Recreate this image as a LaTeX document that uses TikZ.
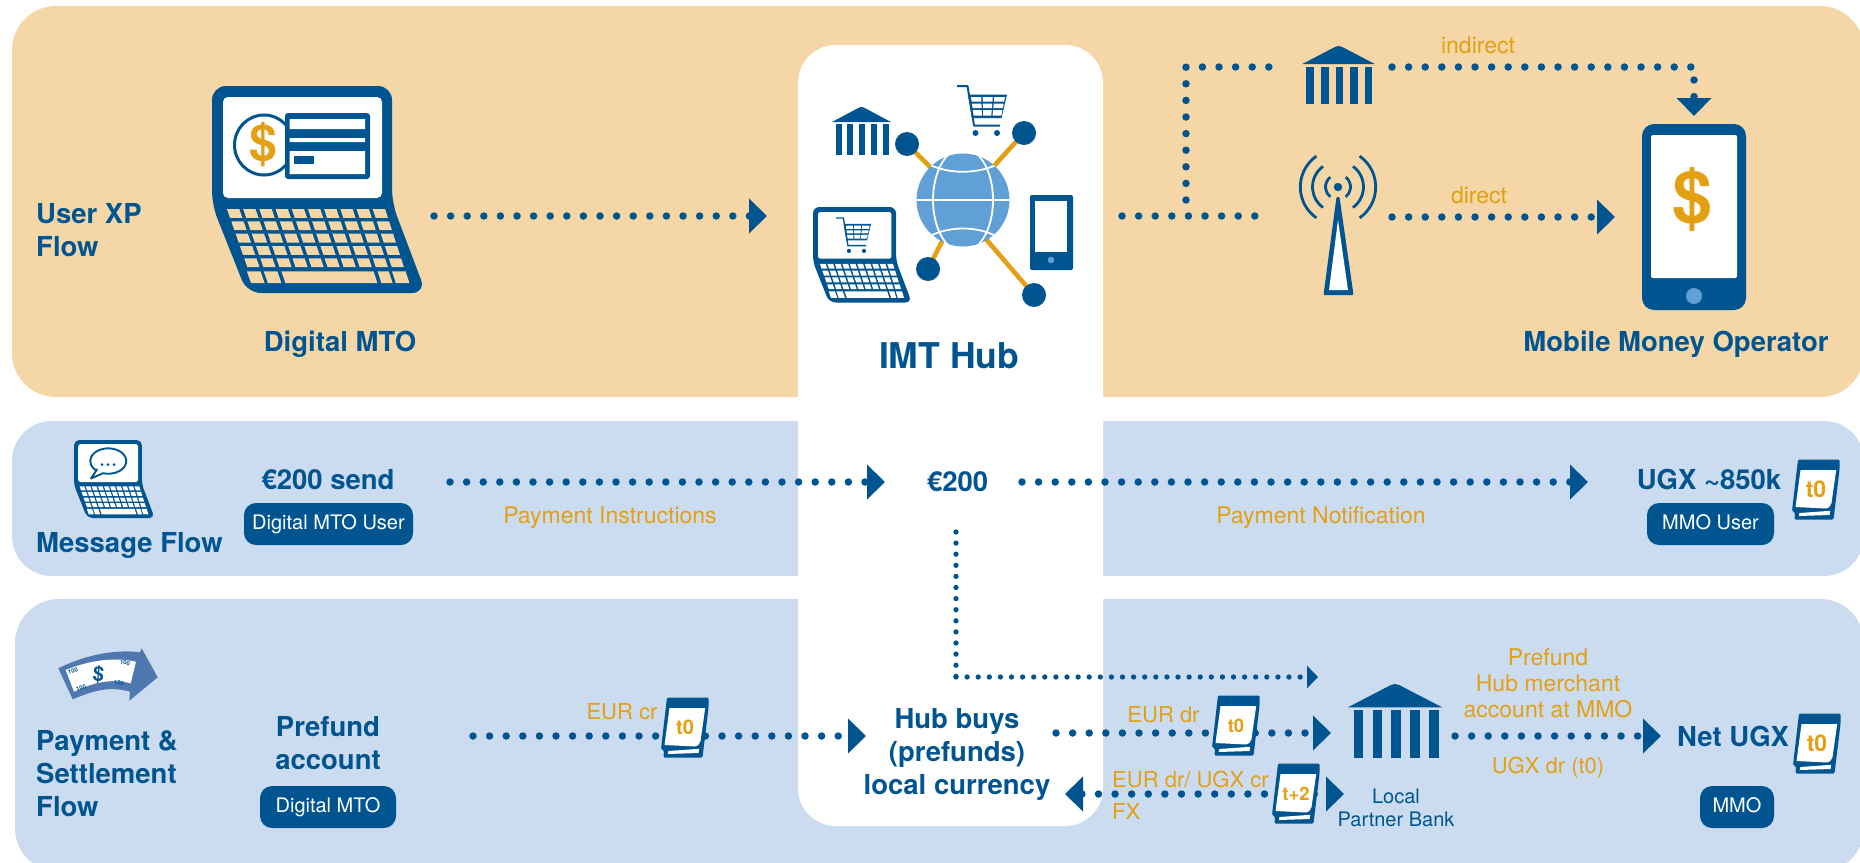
\documentclass[tikz,border=0pt]{standalone}
\usepackage{fontspec}
\setmainfont{TeX Gyre Heros}
\usetikzlibrary{arrows.meta}
\definecolor{mblue}{HTML}{005591}
\definecolor{amber}{HTML}{E3A015}
\definecolor{panelo}{HTML}{F5D6A7}
\definecolor{panelb}{HTML}{CBDCF1}
\definecolor{globeb}{HTML}{619FD7}
\definecolor{notearrow}{HTML}{5078B0}
\tikzset{
  declare function={kx(\u,\t)=13+26*\t+\u*(162-2*\t);ky(\t)=123+74*\t;},
  head/.style={font=\fontsize{27.5}{33}\selectfont\bfseries,text=mblue,inner sep=0pt,anchor=base,yshift=-1.2pt},
  headl/.style={head,align=left,anchor=base west},
  headc/.style={head,align=center},
  lab/.style={font=\fontsize{23}{26}\selectfont,text=amber,inner sep=0pt,anchor=base,yshift=-1.2pt},
  labs/.style={lab,font=\fontsize{22}{26}\selectfont},
  plab/.style={font=\fontsize{20}{23}\selectfont,text=mblue,inner sep=0pt,anchor=base,align=center,yshift=-1.2pt},
  pill/.style={fill=mblue,rounded corners=12pt,text=white,font=\fontsize{20}{23}\selectfont,
     minimum height=42pt,inner xsep=0pt,inner ysep=0pt,text height=15pt,text depth=5pt},
  dotline/.style={draw=mblue,line width=7.5pt,line cap=round,dash pattern=on 0pt off 16.6pt},
  thindot/.style={draw=mblue,line width=5.3pt,line cap=round,dash pattern=on 0pt off 11.1pt},
  bigtip/.style={-{Triangle[length=18pt,width=34pt,fill=mblue]}},
  bothtip/.style={{Triangle[length=18pt,width=34pt,fill=mblue]}-{Triangle[length=18pt,width=34pt,fill=mblue]}},
  smalltip/.style={-{Triangle[length=11pt,width=22pt,fill=mblue]}},
  hubdot/.style={circle,fill=mblue,minimum size=24pt,inner sep=0pt},
  spoke/.style={draw=amber,line width=4.6pt},
  tlab/.style={text=amber,inner sep=0pt},
  notenum/.style={inner sep=0pt,text=mblue,font=\fontsize{6}{6}\selectfont\bfseries},
}
% laptop: x y scale keycolour rows
\newcommand\laptopicon[5]{%
 \begin{scope}[shift={(#1,#2)},scale=#3]
  \pgfmathsetmacro\lapr{#3*14}\pgfmathsetmacro\lapq{#3*5}
  \fill[mblue,rounded corners=\lapr pt] (0,119) -- (35,207) -- (214,207) -- (180,117) -- (180,0) -- (0,0) -- cycle;
  \fill[white,rounded corners=\lapq pt] (11,11) rectangle (170,112);
  \pgfmathsetmacro\nr{#5}
  \pgfmathtruncatemacro\nrm{#5-2}
  \foreach \r in {0,...,\nrm}{
   \foreach \c in {0,...,9}{
    \pgfmathsetmacro\ta{\r/\nr}\pgfmathsetmacro\tb{(\r+0.72)/\nr}
    \pgfmathsetmacro\ua{\c/10+.012}\pgfmathsetmacro\ub{(\c+1)/10-.012}
    \fill[#4] ({kx(\ua,\ta)},{ky(\ta)}) -- ({kx(\ub,\ta)},{ky(\ta)}) -- ({kx(\ub,\tb)},{ky(\tb)}) -- ({kx(\ua,\tb)},{ky(\tb)}) -- cycle;
   }}
  \pgfmathsetmacro\ta{(\nr-1)/\nr+.01}\pgfmathsetmacro\tb{1}
  \foreach \ua/\ub in {0/.085,.105/.19,.215/.79,.815/.885,.905/.99}{
    \fill[#4] ({kx(\ua,\ta)},{ky(\ta)}) -- ({kx(\ub,\ta)},{ky(\ta)}) -- ({kx(\ub,\tb)},{ky(\tb)}) -- ({kx(\ua,\tb)},{ky(\tb)}) -- cycle;
  }
 \end{scope}}
% bank: x y xscale yscale
\newcommand\bankicon[4]{%
 \begin{scope}[shift={(#1,#2)},xscale=#3,yscale=#4]
  \fill[mblue,line join=round] (0,15) -- (27,.6) -- (29.5,0) -- (32,.6) -- (59,15) -- cycle;
  \foreach \i in {0,...,4}{\fill[mblue] ({3.6+11.8*\i},17) rectangle ({9.6+11.8*\i},48);}
 \end{scope}}
% cart: x y scale
\newcommand\carticon[3]{%
 \begin{scope}[shift={(#1,#2)},scale=#3]
  \fill[mblue] (11,8.5) -- (50,8.5) -- (44.5,32) -- (15,32) -- cycle;
  \draw[mblue,line width=#3*2pt,line join=round] (0,0) -- (10.5,0) -- (17,39.5) -- (43,39.5);
  \foreach \yb/\yc/\s in {11/15.5/0,17.5/22/1,24/29.5/2}{
   \foreach \ua/\ub in {0/.3,.345/.64,.685/1}{
    \pgfmathsetmacro\la{14+.14*(\yb-11)}\pgfmathsetmacro\ra{48-.2*(\yb-11)}
    \pgfmathsetmacro\lb{14+.14*(\yc-11)}\pgfmathsetmacro\rb{48-.2*(\yc-11)}
    \fill[white] ({\la+\ua*(\ra-\la)},\yb) -- ({\la+\ub*(\ra-\la)},\yb) -- ({\lb+\ub*(\rb-\lb)},\yc) -- ({\lb+\ua*(\rb-\lb)},\yc) -- cycle;
   }}
  \fill[mblue] (18.5,47) circle (3) (40,47) circle (3);
 \end{scope}}
% calendar: x y name fontsize text
\newcommand\calicon[5]{%
 \begin{scope}[shift={(#1,#2)}]
  \fill[mblue,rounded corners=1.2pt] (6,0.5) -- (47.5,0.5) -- (47.5,11) -- (41.5,60.5) -- (2.5,60.5) -- (3,53.5) -- (0,52) -- cycle;
  \fill[white] (8.5,11) -- (44.2,11) -- (39.5,44) .. controls (38.5,47) and (37.5,48.5) .. (34,49.5) -- (3.5,48) -- cycle;
  \fill[white] (7.5,54) -- (38.2,51.8) -- (37.5,56) -- (6.5,57) -- cycle;
  \node[tlab,font=\fontsize{#4}{#4}\selectfont\bfseries] (#3) at (24,30.5) {#5};
 \end{scope}}
\begin{document}
\begin{tikzpicture}[x=1pt,y=-1pt]
\useasboundingbox (0,0) rectangle (1860,862);
\clip (0,0) rectangle (1860,862);
\fill[white] (0,0) rectangle (1860,862);
% panels
\fill[panelo,rounded corners=44pt] (12,6) rectangle (1864,397);
\fill[panelb,rounded corners=40pt] (12,421) rectangle (1864,576);
\fill[panelb,rounded corners=44pt] (15,599) rectangle (1864,872);
\fill[white,rounded corners=38pt] (798,45) rectangle (1103,826);
% connector ends
\coordinate (xpA) at (434,216); \coordinate (xpB) at (767,216);
\coordinate (rtA) at (1122,216); \coordinate (rtB) at (1271,216);
\coordinate (upA) at (1186,200); \coordinate (upB) at (1186,67); \coordinate (upC) at (1270,67);
\coordinate (inA) at (1392,67); \coordinate (inB) at (1691,67);
\coordinate (inC) at (1694,80); \coordinate (inD) at (1694,116);
\coordinate (diA) at (1392,217); \coordinate (diB) at (1615,217);
\coordinate (m1A) at (450,482); \coordinate (m1B) at (885,482);
\coordinate (m2A) at (1022,482); \coordinate (m2B) at (1588,482);
\coordinate (p1A) at (473,736); \coordinate (p1B) at (866,736);
\coordinate (p2A) at (1056,733); \coordinate (p2B) at (1331,733);
\coordinate (p3A) at (1065,794); \coordinate (p3B) at (1344,794);
\coordinate (p4A) at (1455,736); \coordinate (p4B) at (1661,736);
\coordinate (vtA) at (956,532); \coordinate (vtB) at (956,677); \coordinate (vtC) at (1318,677);
\draw[dotline,bigtip] (xpA) -- (xpB);
\draw[dotline] (rtA) -- (rtB);
\draw[dotline] (upA) -- (upB) -- (upC);
\draw[dotline] (inA) -- (inB);
\draw[dotline,bigtip] (inC) -- (inD);
\draw[dotline,bigtip] (diA) -- (diB);
\draw[dotline,bigtip] (m1A) -- (m1B);
\draw[dotline,bigtip] (m2A) -- (m2B);
\draw[dotline,bigtip] (p1A) -- (p1B);
\draw[dotline,bigtip] (p2A) -- (p2B);
\draw[dotline,bothtip] (p3A) -- (p3B);
\draw[dotline,bigtip] (p4A) -- (p4B);
\draw[thindot] (vtA) -- (vtB);
\draw[thindot,smalltip] (vtB) -- (vtC);
% big laptop
\laptopicon{212}{86}{1}{panelo}{6}
\draw[mblue,line width=3pt,fill=white] (264,145) ellipse (29.5 and 30);
\fill[mblue,rounded corners=3pt] (285,113) rectangle (370,179);
\fill[white] (289.5,119) rectangle (365,129) (289.5,138) rectangle (365,142) (289.5,151) rectangle (365,174);
\fill[mblue] (294,156) rectangle (314,164);
\node[inner sep=0pt,text=amber,font=\fontsize{50}{50}\selectfont\bfseries] (coin) at (263,145) {\$};
% hub icons
\coordinate (gc) at (963,200);
\coordinate (cpA) at (907,144);
\coordinate (cpB) at (1024,133);
\coordinate (cpC) at (928,269);
\coordinate (cpD) at (1034,295);
\coordinate (gd) at (985,238);
\draw[spoke] (cpA) -- (gc);
\draw[spoke] (cpB) -- (gc);
\draw[spoke] (cpC) -- (gc);
\draw[spoke] (cpD) -- (gd);
\node[hubdot] (cnA) at (cpA) {};
\node[hubdot] (cnB) at (cpB) {};
\node[hubdot] (cnC) at (cpC) {};
\node[hubdot] (cnD) at (cpD) {};
\node[circle,fill=globeb,minimum size=93pt,inner sep=0pt] (globe) at (gc) {};
\begin{scope}
 \clip (gc) circle (46.5);
 \draw[white,line width=1.8pt] (916,200) -- (1010,200);
 \draw[white,line width=1.8pt] (963,200) ellipse (30 and 52);
 \draw[white,line width=1.8pt] (930,165) .. controls (950,174) and (976,174) .. (996,165);
 \draw[white,line width=1.8pt] (930,236) .. controls (950,226) and (976,226) .. (996,236);
\end{scope}
\bankicon{832}{107}{1}{1}
\carticon{957}{86}{1}
\laptopicon{813}{207}{.4615}{white}{5}
\carticon{836}{218}{.7}
\fill[mblue,rounded corners=2pt] (1030,195) rectangle (1073,270);
\fill[white] (1035,201) rectangle (1067,252);
\fill[globeb] (1051,260) circle (3.3);
% right icons
\bankicon{1302}{46}{1.24}{1.21}
\fill[mblue] (1338,187) circle (4.2);
\foreach \r/\a in {12.5/52,25.5/54,37.7/55}{
 \draw[mblue,line width=2.8pt] ({1338+\r*cos(\a)},{187-\r*sin(\a)}) arc[start angle=-\a,end angle=\a,radius=\r];
 \draw[mblue,line width=2.8pt] ({1338-\r*cos(\a)},{187-\r*sin(\a)}) arc[start angle=180+\a,end angle=180-\a,radius=\r];
}
\fill[mblue,rounded corners=1pt] (1336.5,197) -- (1339.5,197) -- (1353.5,295) -- (1323.5,295) -- cycle;
\fill[white] (1338,220) -- (1348,290) -- (1329,290) -- cycle;
\fill[mblue,rounded corners=12pt] (1642,124) rectangle (1746,310);
\fill[white,rounded corners=2pt] (1651,135) rectangle (1737,278);
\fill[globeb] (1694,296) circle (8);
\node[inner sep=0pt,text=amber,font=\fontsize{72}{72}\selectfont\bfseries] (dollar) at (1692,200) {\$};
% message laptop
\laptopicon{74}{440}{.377}{white}{5}
\draw[mblue,line width=1.9pt,fill=white,line join=round] (97,469.5) -- (91,478.5) -- (103,473.2) arc[start angle=107,end angle=-226,x radius=18,y radius=12.7] -- cycle;
\fill[mblue] (102,464.5) circle (1.5) (108,464.5) circle (1.5) (114,464.5) circle (1.5);
% money arrow
\fill[notearrow,line join=round] (58.3,668.3) .. controls (85,655) and (115,649) .. (140,652.3) -- (141.7,648.3) -- (157.7,677.3) -- (129.3,700.7) -- (130,691.7) .. controls (110,686) and (95,690) .. (72.7,699.3) -- cycle;
\fill[white] (65.7,670) .. controls (90,660) and (115,657) .. (136,661.7) -- (130.7,683.3) .. controls (110,678) and (92,683) .. (74,691.7) -- cycle;
\node[inner sep=0pt,text=mblue,font=\fontsize{20}{20}\selectfont\bfseries,rotate=-5] (ndollar) at (98.5,674.5) {\$};
\node[notenum,rotate=15] (nA) at (73,671) {100};
\node[notenum,rotate=-6] (nB) at (125,663) {100};
\node[notenum,rotate=18] (nC) at (81,688) {100};
\node[notenum,rotate=-8] (nD) at (119,683) {100};
% local bank
\bankicon{1348}{684}{1.593}{1.55}
% calendars
\calicon{1792}{459}{calA}{23}{t0}
\calicon{661}{697}{calB}{20}{t0}
\calicon{1212}{695}{calC}{18.5}{t0}
\calicon{1272}{763}{calD}{18.5}{t+2}
\calicon{1793}{713}{calE}{23}{t0}
% texts
\node[headl] (tUser) at (36,255) {User XP\\Flow};
\node[head] (tMTO) at (340,350) {Digital MTO};
\node[head,font=\fontsize{35.5}{36}\selectfont\bfseries] (tHub) at (949,367) {IMT Hub};
\node[head] (tMMO) at (1676,350) {Mobile Money Operator};
\node[lab] (tInd) at (1478,52) {indirect};
\node[lab] (tDir) at (1479,202) {direct};
\node[headl] (tMsg) at (36,551) {Message Flow};
\node[head] (tSend) at (328,488) {€200 send};
\node[pill,minimum width=169pt] (pA) at (328.5,524) {Digital MTO User};
\node[lab] (tPI) at (610,522) {Payment Instructions};
\node[head] (t200) at (957.6,490) {€200};
\node[lab] (tPN) at (1321,522) {Payment Notification};
\node[head] (tUGX) at (1709,488) {UGX \textasciitilde850k};
\node[pill,minimum width=127pt] (pB) at (1710.5,524) {MMO User};
\node[headl] (tPay) at (36,815) {Payment \&\\Settlement\\Flow};
\node[headc] (tPre) at (328,768) {Prefund\\account};
\node[pill,minimum width=136pt] (pC) at (328,807) {Digital MTO};
\node[labs] (tCr) at (622,718) {EUR cr};
\node[headc] (tBuy) at (957,793) {Hub buys\\(prefunds)\\local currency};
\node[labs] (tDr) at (1163.5,721) {EUR dr};
\node[lab,align=left,anchor=base west,font=\fontsize{22}{32}\selectfont] (tDr2) at (1112,818) {EUR dr/ UGX cr\\FX};
\node[plab] (tLoc) at (1396,825) {Local\\Partner Bank};
\node[lab,align=center] (tPH) at (1548,716) {Prefund\\Hub merchant\\account at MMO};
\node[labs] (tUd) at (1548,772) {UGX dr (t0)};
\node[head] (tNet) at (1733,745) {Net UGX};
\node[pill,minimum width=74pt] (pD) at (1737,807) {MMO};
\end{tikzpicture}
\end{document}
